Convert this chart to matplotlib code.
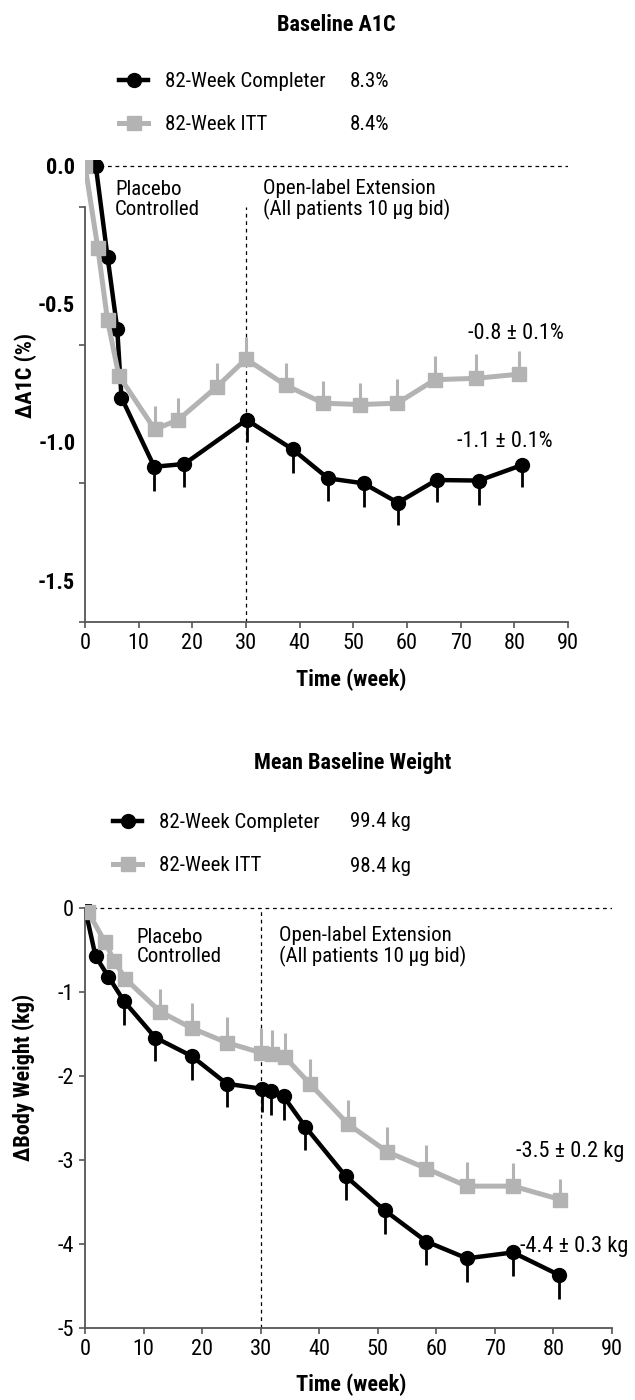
import matplotlib
matplotlib.use('Agg')
import matplotlib.pyplot as plt
from matplotlib import font_manager
from matplotlib.lines import Line2D

# narrow face if one is installed, plain Liberation Sans otherwise
_names = {f.name for f in font_manager.fontManager.ttflist}
FONT = 'Liberation Sans'
for _cand in ['Liberation Sans Narrow', 'Roboto Condensed', 'Open Sans Condensed']:
    if _cand in _names:
        FONT = _cand
        break
plt.rcParams['font.family'] = [FONT, 'DejaVu Sans']
plt.rcParams['axes.unicode_minus'] = False

GRAY = '#b3b3b3'
SPINE = '#555555'

# ---- A1C ----
a1c_itt_wk = [0, 2.4, 4.2, 6.3, 13.0, 17.4, 24.6, 30.0, 37.4, 44.4, 51.3, 58.2, 65.2, 72.9, 80.9]
a1c_itt = [0, -0.30, -0.56, -0.76, -0.955, -0.92, -0.80, -0.70, -0.795, -0.86, -0.865, -0.86, -0.775,
           -0.77, -0.755]
a1c_itt_se = [0, 0.01, 0.015, 0.02, 0.084, 0.08, 0.087, 0.078, 0.081, 0.082, 0.078, 0.087, 0.084,
              0.089, 0.084]

a1c_comp_wk = [2.0, 4.2, 6.0, 6.8, 12.9, 18.5, 30.1, 38.7, 45.3, 51.9, 58.3, 65.5, 73.4, 81.4]
a1c_comp = [0, -0.33, -0.59, -0.84, -1.09, -1.08, -0.92, -1.027, -1.132, -1.15, -1.22, -1.138, -1.14,
            -1.084]
a1c_comp_se = [0, 0.01, 0.015, 0.02, 0.089, 0.084, 0.081, 0.084, 0.082, 0.086, 0.08, 0.078, 0.087,
               0.078]

# ---- body weight ----
wt_itt_wk = [0.5, 3.4, 5.0, 6.9, 12.8, 18.3, 24.2, 30.0, 32.0, 34.1, 38.4, 44.9, 51.6, 58.3, 65.2,
             73.1, 81.2]
wt_itt = [-0.04, -0.40, -0.63, -0.84, -1.23, -1.43, -1.60, -1.72, -1.74, -1.77, -2.09, -2.57, -2.90,
          -3.10, -3.31, -3.31, -3.47]
wt_itt_se = [0, 0.01, 0.02, 0.03, 0.27, 0.30, 0.30, 0.29, 0.29, 0.29, 0.29, 0.29, 0.29, 0.28, 0.29,
             0.28, 0.24]

wt_comp_wk = [0, 1.8, 4.0, 6.7, 12.0, 18.2, 24.2, 30.2, 31.7, 33.9, 37.6, 44.5, 51.2, 58.3, 65.2,
              73.1, 81.0]
wt_comp = [0, -0.57, -0.815, -1.11, -1.54, -1.76, -2.09, -2.15, -2.18, -2.24, -2.60, -3.19, -3.60,
           -3.97, -4.17, -4.10, -4.37]
wt_comp_se = [0, 0.01, 0.02, 0.28, 0.28, 0.28, 0.28, 0.28, 0.28, 0.28, 0.28, 0.28, 0.28, 0.28, 0.28,
              0.28, 0.28]

series_names = ['82-Week Completer', '82-Week ITT']
a1c_baseline = ['8.3%', '8.4%']
wt_baseline = ['99.4 kg', '98.4 kg']


def px(x, y):
    """figure pixel (from top left) -> figure fraction"""
    return x / 635, 1 - y / 1400


def draw_panel(ax, itt_wk, itt, itt_se, comp_wk, comp, comp_se):
    zeros_i = [0] * len(itt)
    zeros_c = [0] * len(comp)
    # completer: error bars hang below, ITT: error bars stand above
    ax.errorbar(comp_wk, comp, yerr=[comp_se, zeros_c], color='black', lw=3.2, marker='o', ms=10,
                elinewidth=2.0, capsize=0, zorder=3)
    ax.errorbar(itt_wk, itt, yerr=[zeros_i, itt_se], color=GRAY, lw=3.6, marker='s', ms=9.5,
                elinewidth=2.2, capsize=0, zorder=4)

    ax.set_xlim(0, 90)
    ax.set_xticks(range(0, 91, 10))
    ax.tick_params(axis='x', length=4, width=1.2, color=SPINE, labelsize=16, pad=4)
    ax.spines[['top', 'right']].set_visible(False)
    for s in ('left', 'bottom'):
        ax.spines[s].set_color(SPINE)
        ax.spines[s].set_linewidth(1.3)
    ax.axhline(0, color='black', lw=0.9, ls=(0, (3, 3)), zorder=1)


def legend(fig, x0, y_rows, values):
    handles = [Line2D([], [], color='black', lw=3.2, marker='o', ms=10),
               Line2D([], [], color=GRAY, lw=3.6, marker='s', ms=9.5)]
    fig.legend(handles, series_names, loc='center left',
               bbox_to_anchor=px(x0, sum(y_rows) / 2), frameon=False, fontsize=15,
               handlelength=1.4, handletextpad=0.8, labelspacing=1.15,
               borderpad=0, borderaxespad=0)
    for y, v in zip(y_rows, values):
        fig.text(*px(350, y), v, fontsize=15, va='center', ha='left')


def phase_labels(ax, placebo_x, y, ext_x):
    ax.text(placebo_x, y, 'Placebo\nControlled', fontsize=15, va='center', ha='left',
            linespacing=1.05)
    ax.text(ext_x, y, 'Open-label Extension\n(All patients 10 µg bid)', fontsize=15, va='center',
            ha='left', linespacing=1.05)


fig = plt.figure(figsize=(6.35, 14), dpi=100)

# ---------------- A1C panel ----------------
ax1 = fig.add_axes([85 / 635, 1 - 621.5 / 1400, 483 / 635, 461.5 / 1400])
draw_panel(ax1, a1c_itt_wk, a1c_itt, a1c_itt_se, a1c_comp_wk, a1c_comp, a1c_comp_se)
ax1.set_ylim(-1.65, 0.02)
ax1.spines['left'].set_bounds(-1.65, -0.15)
ax1.set_yticks([0, -0.5, -1.0, -1.5])
ax1.set_yticklabels(['0.0', '-0.5', '-1.0', '-1.5'], fontweight='bold')
ax1.set_yticks([-0.15, -0.65, -1.15, -1.65], minor=True)
ax1.tick_params(axis='y', which='major', length=0, labelsize=16, pad=7)
ax1.tick_params(axis='y', which='minor', length=4, width=1.2, color=SPINE)
ax1.vlines(30, -1.65, -0.15, color='black', lw=0.9, ls=(0, (3, 3)), zorder=1)
phase_labels(ax1, 5.6, -0.122, 33.2)
ax1.text(80.3, -0.607, '-0.8 ± 0.1%', fontsize=16, ha='center', va='center')
ax1.text(78.3, -1.0, '-1.1 ± 0.1%', fontsize=16, ha='center', va='center')
ax1.set_xlabel('Time (week)', fontsize=16, fontweight='bold')
ax1.xaxis.set_label_coords(0.551, -47 / 461.5)
ax1.set_ylabel('ΔA1C (%)', fontsize=16, fontweight='bold')
ax1.yaxis.set_label_coords(-48 / 483, 0.534)

fig.text(*px(336, 25), 'Baseline A1C', fontsize=16, fontweight='bold', ha='center', va='center')
legend(fig, 119, [81.7, 125], a1c_baseline)

# ---------------- weight panel ----------------
ax2 = fig.add_axes([85 / 635, 1 - 1328 / 1400, 527 / 635, 423.9 / 1400])
draw_panel(ax2, wt_itt_wk, wt_itt, wt_itt_se, wt_comp_wk, wt_comp, wt_comp_se)
ax2.set_ylim(-5, 0.05)
ax2.spines['left'].set_bounds(-5, 0)
ax2.set_yticks([0, -1, -2, -3, -4, -5])
ax2.set_yticklabels(['0', '-1', '-2', '-3', '-4', '-5'])
ax2.tick_params(axis='y', length=4, width=1.2, color=SPINE, labelsize=16, pad=4)
ax2.vlines(30, -5, 0, color='black', lw=0.9, ls=(0, (3, 3)), zorder=1)
phase_labels(ax2, 8.8, -0.46, 33.2)
ax2.text(82.8, -2.90, '-3.5 ± 0.2 kg', fontsize=16, ha='center', va='center')
ax2.text(83.6, -4.03, '-4.4 ± 0.3 kg', fontsize=16, ha='center', va='center')
ax2.set_xlabel('Time (week)', fontsize=16, fontweight='bold')
ax2.xaxis.set_label_coords(0.505, -46 / 423.9)
ax2.set_ylabel('ΔBody Weight (kg)', fontsize=16, fontweight='bold')
ax2.yaxis.set_label_coords(-50 / 527, 0.59)

fig.text(*px(353, 763), 'Mean Baseline Weight', fontsize=16, fontweight='bold', ha='center',
         va='center')
legend(fig, 113, [821.7, 866.7], wt_baseline)

fig.savefig('out.png', dpi=100)
